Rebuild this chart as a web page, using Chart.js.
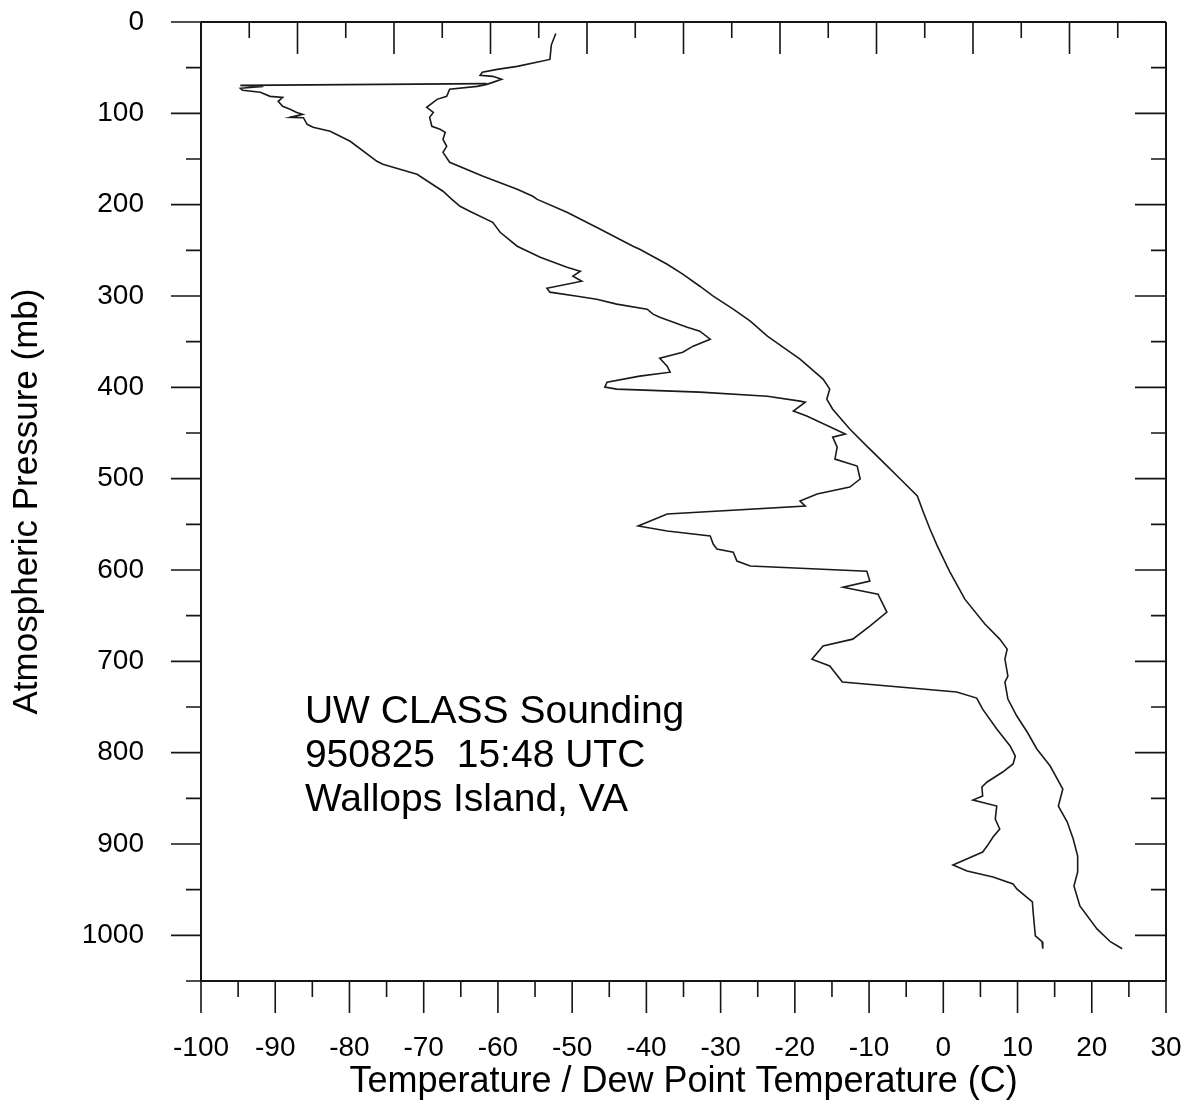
<!DOCTYPE html>
<html>
<head>
<meta charset="utf-8">
<script src="https://cdn.jsdelivr.net/npm/chart.js@4.4.1/dist/chart.umd.min.js"></script>
<style>
  body { margin: 0; background: #fff; }
  canvas { display: block; }
</style>
</head>
<body>
<canvas id="grafica" width="1188" height="1101"></canvas>
<script>
// temperature profile (right line), pressure in mb / temperature in C
const tempPressure = [12.5, 25, 41, 48.6, 51.9, 55.1, 58.4, 59.5, 62.8, 66.1,
  68.3, 70.5, 73.7, 81.4, 84.7, 93.4, 99, 104.4, 114.2, 117.5,
  120.8, 128.6, 136.1, 142.7, 153.6, 168.9, 183.2, 190.8, 194.2, 208.3,
  226.9, 245.5, 248.8, 265.2, 276.1, 289.3, 300.2, 314.4, 327.6, 344,
  356, 369.2, 391, 402, 413, 423.9, 445.7, 464.3, 481.9, 500.4,
  519, 536.5, 555.1, 573.8, 595.7, 602.3, 631.9, 659.2, 675.7, 686.6,
  697.6, 716.1, 722.7, 741.3, 759.9, 777.4, 796, 814.6, 839.8, 858.5,
  876, 894.6, 913.2, 930.6, 945.9, 967.8, 993, 1007, 1014.7];
const tempValues = [-52.2, -52.8, -53.0, -57.4, -60.1, -62.1, -62.4, -60.7, -59.5, -60.7,
  -61.5, -62.8, -66.5, -66.9, -68.2, -69.6, -68.7, -69.2, -68.9, -67.8,
  -67.1, -67.4, -66.9, -67.4, -66.5, -62.0, -57.4, -55.3, -54.7, -50.7,
  -46.2, -41.8, -40.9, -37.2, -35.1, -32.8, -31.0, -28.3, -26.0, -23.7,
  -21.6, -19.3, -16.2, -15.3, -15.7, -14.9, -12.6, -10.3, -8.1, -5.8,
  -3.5, -2.7, -1.8, -0.8, 0.5, 0.9, 2.9, 5.6, 7.6, 8.6,
  8.3, 8.7, 8.3, 8.7, 9.9, 11.3, 12.6, 14.4, 16.1, 15.5,
  16.7, 17.5, 18.1, 18.1, 17.6, 18.4, 20.7, 22.5, 24.1];

// dew point profile (left line)
const dewPressure = [67.5, 69.4, 70.5, 72.6, 74.8, 77.0, 81.4, 82.5, 86.9, 92.3,
  95.6, 99.0, 101.1, 104.4, 104.8, 112.0, 115.3, 119.7, 130.6, 152.5,
  155.8, 166.7, 185.3, 194.2, 201.8, 207.2, 219.3, 230.2, 245.5, 257.5,
  268.5, 272.9, 278.3, 283.8, 291.5, 295.8, 300.2, 303.5, 308.9, 314.4,
  319.9, 323.2, 334.1, 338.5, 347.3, 354.9, 361.5, 368.1, 376.8, 383.4,
  387.7, 394.3, 399.8, 402.0, 405.3, 409.7, 415.1, 416.2, 426.0, 431.5,
  451.2, 454.5, 465.4, 478.6, 486.2, 500.4, 509.2, 516.8, 524.5, 530.0,
  538.7, 551.8, 557.3, 562.8, 571.6, 577.1, 580.4, 590.2, 595.7, 601.3,
  612.2, 618.8, 626.5, 646.1, 661.4, 675.7, 683.3, 697.6, 705.0, 722.7,
  733.6, 740.2, 752.3, 774.1, 792.7, 803.7, 812.4, 821.2, 832.1, 837.6,
  847.5, 851.9, 858.5, 872.7, 883.6, 892.4, 902.3, 908.8, 923.0, 929.6,
  936.1, 943.8, 949.2, 963.4, 974.4, 1000.7, 1007.0, 1014.7];
const dewValues = [-61.5, -94.7, -91.6, -94.7, -94.4, -92.0, -90.7, -89.0, -89.6, -89.0,
  -88.0, -87.1, -86.3, -88.0, -86.2, -85.7, -84.9, -82.6, -79.9, -76.3,
  -75.5, -70.9, -67.4, -66.2, -65.1, -63.8, -60.7, -59.7, -57.4, -54.3,
  -50.7, -48.9, -49.9, -48.7, -53.4, -53.0, -49.3, -46.7, -44.0, -39.9,
  -39.1, -38.2, -34.5, -32.8, -31.4, -33.7, -35.1, -38.2, -37.2, -36.8,
  -40.9, -45.3, -45.6, -44.0, -32.8, -23.7, -19.3, -18.6, -20.2, -18.4,
  -13.2, -14.9, -14.3, -14.6, -11.6, -11.2, -12.6, -17.0, -19.3, -18.6,
  -37.2, -41.1, -37.2, -31.4, -31.0, -30.5, -28.3, -27.8, -26.0, -10.3,
  -9.9, -13.5, -8.8, -7.6, -9.9, -12.2, -16.2, -17.7, -15.3, -13.6,
  1.8, 4.5, 5.3, 7.2, 9.0, 9.7, 9.4, 8.0, 5.9, 5.2,
  5.3, 4.0, 7.2, 7.0, 7.6, 6.7, 5.9, 5.3, 1.3, 3.2,
  6.7, 9.4, 9.9, 12.0, 12.1, 12.4, 13.3, 13.4];

const tempTicks = [-100, -90, -80, -70, -60, -50, -40, -30, -20, -10, 0, 10, 20, 30];
const pressureTicks = [0, 100, 200, 300, 400, 500, 600, 700, 800, 900, 1000];
const noteLines = ["UW CLASS Sounding", "950825  15:48 UTC", "Wallops Island, VA"];

const fontName = "'Liberation Sans', Arial, sans-serif";

function perfil(pres, vals) {
  return pres.map((p, i) => ({ x: vals[i], y: p }));
}

// fixed axis sizes so the plot box lands where the original one is
function tamano(w, h) {
  return (s) => {
    if (w !== null) s.width = w;
    if (h !== null) s.height = h;
    s.paddingLeft = 0; s.paddingRight = 0; s.paddingTop = 0; s.paddingBottom = 0;
  };
}

// axes frame, tick marks and the station note
const marco = {
  id: "marco",
  afterDraw(chart) {
    const { ctx, chartArea: a, scales } = chart;
    const x = scales.x, y = scales.y, x2 = scales.x2;
    ctx.save();
    ctx.strokeStyle = "#151515";
    ctx.lineWidth = 2;
    ctx.beginPath();
    ctx.moveTo(a.left, a.top); ctx.lineTo(a.left, a.bottom);
    ctx.moveTo(a.left, a.top); ctx.lineTo(a.right, a.top);
    ctx.moveTo(a.right, a.top); ctx.lineTo(a.right, a.bottom);
    ctx.moveTo(a.left, a.bottom); ctx.lineTo(a.right, a.bottom);
    ctx.stroke();

    ctx.lineWidth = 1.6;
    ctx.beginPath();
    for (let p = 0; p <= 1050; p += 50) {
      const py = y.getPixelForValue(p);
      const big = p % 100 === 0;
      ctx.moveTo(a.left - (big ? 30 : 15), py); ctx.lineTo(a.left, py);
      ctx.moveTo(a.right - (big ? 31 : 15), py); ctx.lineTo(a.right, py);
    }
    for (let t = -100; t <= 30; t += 5) {
      const px = x.getPixelForValue(t);
      ctx.moveTo(px, a.bottom); ctx.lineTo(px, a.bottom + (t % 10 === 0 ? 32 : 16));
    }
    for (let v = 0.5; v < 10; v += 0.5) {
      const px = x2.getPixelForValue(v);
      ctx.moveTo(px, a.top); ctx.lineTo(px, a.top + (v % 1 === 0 ? 32 : 16));
    }
    ctx.stroke();

    ctx.fillStyle = "#000";
    ctx.font = "39px " + fontName;
    ctx.textBaseline = "alphabetic";
    ctx.textAlign = "left";
    const nx = x.getPixelForValue(-86);
    const ny = y.getPixelForValue(768);
    noteLines.forEach((line, i) => ctx.fillText(line, nx, ny + i * 44));
    ctx.restore();
  }
};

const cxt = document.getElementById("grafica");
const myChart = new Chart(cxt, {
  type: "scatter",
  data: {
    datasets: [
      {
        label: "Temperature",
        data: perfil(tempPressure, tempValues),
        showLine: true,
        borderColor: "#1a1a1a",
        borderWidth: 1.6,
        pointRadius: 0,
        tension: 0,
      },
      {
        label: "Dew Point",
        data: perfil(dewPressure, dewValues),
        showLine: true,
        borderColor: "#1a1a1a",
        borderWidth: 1.6,
        pointRadius: 0,
        tension: 0,
      },
    ],
  },
  options: {
    responsive: false,
    animation: false,
    devicePixelRatio: 1,
    layout: { padding: 0 },
    plugins: { legend: { display: false }, tooltip: { enabled: false } },
    scales: {
      x: {
        type: "linear",
        position: "bottom",
        min: -100,
        max: 30,
        grid: { display: false },
        border: { display: false },
        afterBuildTicks: (s) => { s.ticks = tempTicks.map((v) => ({ value: v })); },
        ticks: {
          color: "#000", padding: 42, maxRotation: 0, autoSkip: false,
          font: { family: fontName, size: 28 },
          callback: (v) => String(v),
        },
        title: {
          display: true,
          text: "Temperature / Dew Point Temperature (C)",
          color: "#000",
          padding: { top: 0, bottom: -3 },
          font: { family: fontName, size: 36 },
        },
        afterFit: tamano(null, 120),
      },
      y: {
        type: "linear",
        position: "left",
        min: 0,
        max: 1050,
        reverse: true,
        grid: { display: false },
        border: { display: false },
        afterBuildTicks: (s) => { s.ticks = pressureTicks.map((v) => ({ value: v })); },
        ticks: {
          color: "#000", padding: 49, autoSkip: false,
          font: { family: fontName, size: 28 },
          callback: (v) => String(v),
        },
        title: {
          display: true,
          text: "Atmospheric Pressure (mb)",
          color: "#000",
          padding: { top: 6, bottom: 0 },
          font: { family: fontName, size: 35 },
        },
        afterFit: tamano(201, null),
      },
      x2: {
        type: "linear",
        position: "top",
        min: 0,
        max: 10,
        grid: { display: false },
        border: { display: false },
        ticks: { display: false },
        afterFit: tamano(null, 22),
      },
      y2: {
        type: "linear",
        position: "right",
        min: 0,
        max: 1050,
        reverse: true,
        grid: { display: false },
        border: { display: false },
        ticks: { display: false },
        afterFit: tamano(22, null),
      },
    },
  },
  plugins: [marco],
});
</script>
</body>
</html>
